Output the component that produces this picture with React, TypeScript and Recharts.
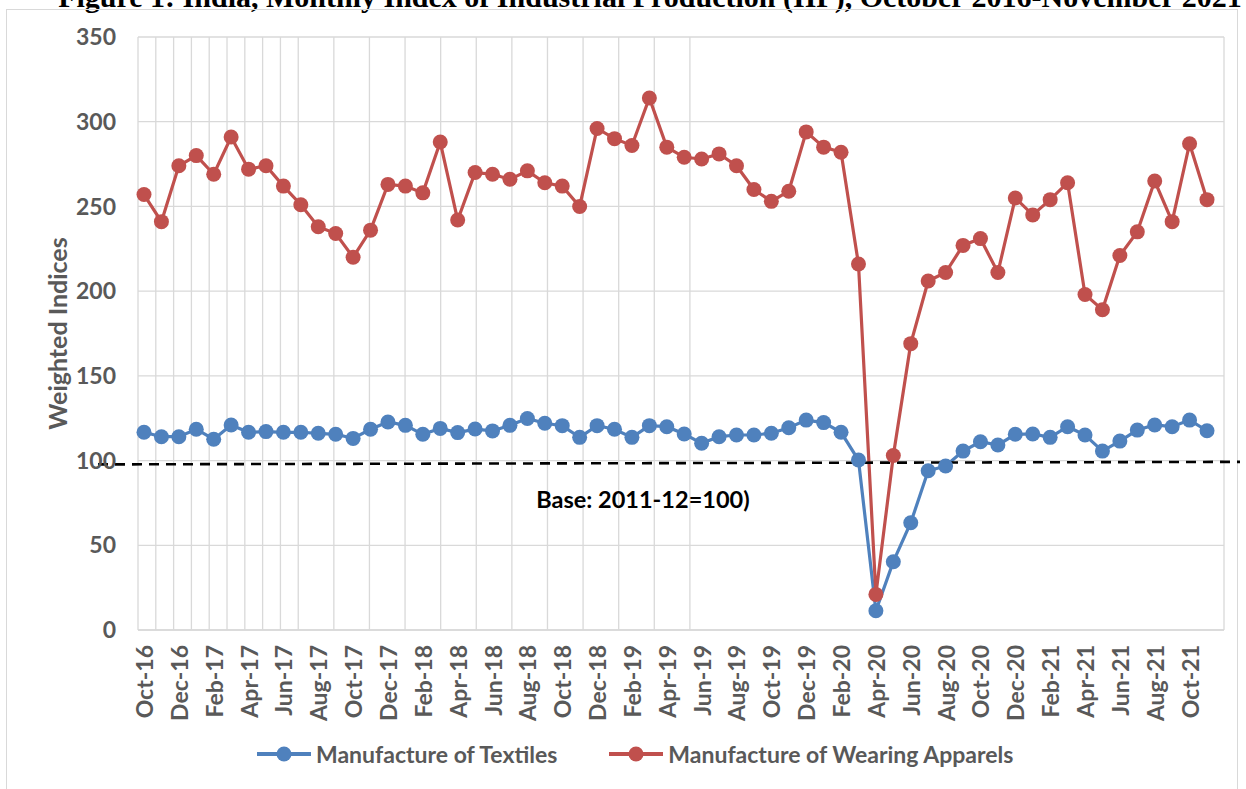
import React from "react";
import {
  LineChart,
  Line,
  XAxis,
  YAxis,
  CartesianGrid,
  Legend,
  ReferenceLine,
  ReferenceDot,
} from "recharts";

const months = [
  "Oct-16", "Nov-16", "Dec-16", "Jan-17", "Feb-17", "Mar-17", "Apr-17", "May-17", "Jun-17", "Jul-17",
  "Aug-17", "Sep-17", "Oct-17", "Nov-17", "Dec-17", "Jan-18", "Feb-18", "Mar-18", "Apr-18", "May-18",
  "Jun-18", "Jul-18", "Aug-18", "Sep-18", "Oct-18", "Nov-18", "Dec-18", "Jan-19", "Feb-19", "Mar-19",
  "Apr-19", "May-19", "Jun-19", "Jul-19", "Aug-19", "Sep-19", "Oct-19", "Nov-19", "Dec-19", "Jan-20",
  "Feb-20", "Mar-20", "Apr-20", "May-20", "Jun-20", "Jul-20", "Aug-20", "Sep-20", "Oct-20", "Nov-20",
  "Dec-20", "Jan-21", "Feb-21", "Mar-21", "Apr-21", "May-21", "Jun-21", "Jul-21", "Aug-21", "Sep-21",
  "Oct-21", "Nov-21",
];

const textiles = [
  116.7, 114.1, 114.1, 118.5, 112.6, 121.0, 116.7, 117.1, 116.7, 116.7,
  116.1, 115.5, 113.1, 118.5, 122.8, 120.8, 115.5, 119.0, 116.5, 118.6,
  117.5, 120.8, 124.8, 122.0, 120.6, 113.7, 120.6, 118.5, 113.7, 120.6,
  120.0, 115.7, 110.2, 114.1, 115.1, 115.1, 116.1, 119.4, 123.9, 122.4,
  116.7, 100.3, 11.4, 40.3, 63.3, 94.0, 96.8, 105.6, 111.1, 109.2,
  115.5, 115.7, 113.7, 120.0, 115.1, 105.6, 111.5, 118.0, 121.0, 120.0,
  123.9, 117.6,
];

const apparels = [
  257, 241, 274, 280, 269, 291, 272, 274, 262, 251,
  238, 234, 220, 236, 263, 262, 258, 288, 242, 270,
  269, 266, 271, 264, 262, 250, 296, 290, 286, 314,
  285, 279, 278, 281, 274, 260, 253, 259, 294, 285,
  282, 216, 21, 103, 169, 206, 211, 227, 231, 211,
  255, 245, 254, 264, 198, 189, 221, 235, 265, 241,
  287, 254,
];

const yTicks = [0, 50, 100, 150, 200, 250, 300, 350];
const baseStart = 97.8;
const baseEnd = 99.2;
const baseText = "Base: 2011-12=100)";
const title =
  "Figure 1: India, Monthly Index of Industrial Production (IIP), October 2016-November 2021";

// excel-style vertical gridlines: 31 even steps across the plot
const gridTicks = Array.from({ length: 32 }, (_, i) => i);

const rows = months.map((m, i) => ({
  month: m,
  textiles: textiles[i],
  apparels: apparels[i],
}));

const FONT = "Lato, 'Noto Sans', sans-serif";
const GREY = "#595959";
const BLUE = "#4F81BD";
const RED = "#C0504D";

const XTick = (props: any) => {
  const { x, y, payload } = props;
  return (
    <g transform={`translate(${x},${y})`}>
      <text
        transform="rotate(-90)"
        x={-9}
        y={0}
        textAnchor="end"
        dominantBaseline="central"
        fill={GREY}
        fontSize={23}
        fontWeight={700}
        fontFamily={FONT}>
        {payload.value}
      </text>
    </g>
  );
};

const YLabel = (props: any) => {
  const { viewBox } = props;
  const cx = 57;
  const cy = viewBox.y + viewBox.height / 2;
  return (
    <text
      x={cx}
      y={cy}
      transform={`rotate(-90 ${cx} ${cy})`}
      textAnchor="middle"
      dominantBaseline="central"
      fill={GREY}
      fontSize={25}
      fontWeight={700}
      fontFamily={FONT}>
      Weighted Indices
    </text>
  );
};

const BaseLineShape = (props: any) => {
  const { x1, y1, x2, y2 } = props;
  const slope = (y2 - y1) / (x2 - x1);
  const extL = 46;
  const extR = 33;
  return (
    <line
      x1={x1 - extL}
      y1={y1 - slope * extL}
      x2={x2 + extR}
      y2={y2 + slope * extR}
      stroke="#000"
      strokeWidth={2.6}
      strokeDasharray="10 7"
    />
  );
};

const LegendContent = (props: any) => {
  const { payload = [] } = props;
  return (
    <div style={{ display: "flex", alignItems: "center", fontFamily: FONT }}>
      {payload.map((p: any, i: number) => (
        <div
          key={p.value}
          style={{ display: "flex", alignItems: "center", marginRight: i === 0 ? 52 : 0 }}>
          <svg width={54} height={18} style={{ marginRight: 5 }}>
            <line x1={0} y1={9} x2={54} y2={9} stroke={p.color} strokeWidth={4} />
            <circle cx={27} cy={9} r={7.5} fill={p.color} />
          </svg>
          <span style={{ color: GREY, fontSize: 23, fontWeight: 700 }}>{p.value}</span>
        </div>
      ))}
    </div>
  );
};

export default function App() {
  return (
    <div style={{ position: "fixed", inset: 0, background: "#fff", overflow: "hidden" }}>
      <div
        style={{
          position: "absolute",
          left: 0,
          top: -18,
          width: 1300,
          textAlign: "center",
          fontFamily: "'Liberation Serif', serif",
          fontWeight: 700,
          fontSize: 30,
          lineHeight: "30px",
          whiteSpace: "nowrap",
        }}>
        {title}
      </div>
      <div
        style={{
          position: "absolute",
          left: 6,
          top: 9,
          width: 1232,
          height: 820,
          border: "1px solid #d9d9d9",
          boxSizing: "border-box",
        }}
      />
      <div style={{ position: "absolute", left: 0, top: 0 }}>
        <LineChart
          width={1246}
          height={789}
          data={rows}
          margin={{ top: 37, right: 22, bottom: 69, left: 0 }}
          style={{ fontFamily: FONT }}>
          <XAxis
            xAxisId="grid"
            type="number"
            domain={[0, 31]}
            ticks={gridTicks}
            hide
            height={0}
          />
          <CartesianGrid xAxisId="grid" stroke="#d9d9d9" strokeWidth={1.3} />
          <XAxis
            dataKey="month"
            interval={1}
            height={90}
            tickLine={false}
            tickMargin={0}
            axisLine={{ stroke: "#d9d9d9", strokeWidth: 1.3 }}
            padding={{ left: 6, right: 17 }}
            tick={<XTick />}
          />
          <YAxis
            domain={[0, 350]}
            ticks={yTicks}
            width={138}
            axisLine={false}
            tickLine={false}
            tickMargin={16}
            tick={{ fill: GREY, fontSize: 23, fontWeight: 700, fontFamily: FONT }}
            label={<YLabel />}
          />
          <Line
            type="linear"
            dataKey="textiles"
            name="Manufacture of Textiles"
            stroke={BLUE}
            strokeWidth={3.2}
            dot={{ r: 7.5, fill: BLUE, stroke: BLUE, strokeWidth: 0 }}
            activeDot={false}
            isAnimationActive={false}
          />
          <Line
            type="linear"
            dataKey="apparels"
            name="Manufacture of Wearing Apparels"
            stroke={RED}
            strokeWidth={3.2}
            dot={{ r: 7.5, fill: RED, stroke: RED, strokeWidth: 0 }}
            activeDot={false}
            isAnimationActive={false}
          />
          <ReferenceLine
            segment={[
              { x: months[0], y: baseStart },
              { x: months[months.length - 1], y: baseEnd },
            ]}
            ifOverflow="visible"
            shape={BaseLineShape}
          />
          <ReferenceDot
            x="Feb-19"
            y={77}
            r={0}
            fill="none"
            stroke="none"
            ifOverflow="visible"
            label={{
              value: baseText,
              position: "center",
              dx: 11,
              fill: "#000",
              fontSize: 23.5,
              fontWeight: 700,
              fontFamily: FONT,
            }}
          />
          <Legend
            verticalAlign="middle"
            align="center"
            layout="horizontal"
            content={<LegendContent />}
            wrapperStyle={{ left: 257, top: 740, width: "auto" }}
          />
        </LineChart>
      </div>
    </div>
  );
}
